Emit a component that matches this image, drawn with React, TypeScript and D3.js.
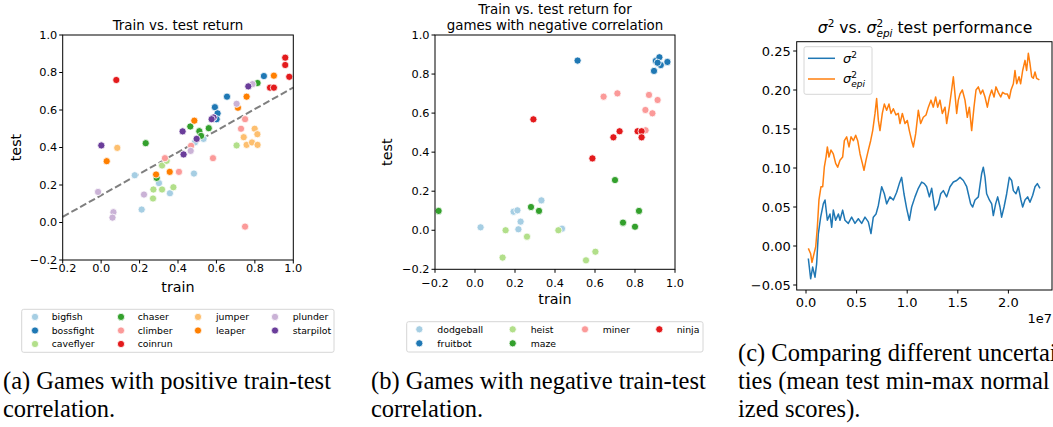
import React from "react";
import * as d3 from "d3";

// ---------- Panel (a): games with positive train-test correlation ----------
const gamesA = ["bigfish", "bossfight", "caveflyer", "chaser", "climber", "coinrun", "jumper", "leaper", "plunder", "starpilot"];
const colorsA = ["#a6cee3", "#1f78b4", "#b2df8a", "#33a02c", "#fb9a99", "#e31a1c", "#fdbf6f", "#ff7f00", "#cab2d6", "#6a3d9a"];
const legendColA = [0, 0, 0, 1, 1, 1, 2, 2, 3, 3];
const legendRowA = [0, 1, 2, 0, 1, 2, 0, 1, 0, 1];
const bigfish = [[0.175, 0.252], [0.301, 0.21], [0.211, 0.069], [0.358, 0.156], [0.483, 0.261], [0.533, 0.446], [0.488, 0.427]];
const bossfight = [[0.847, 0.781], [0.655, 0.671], [0.592, 0.615], [0.606, 0.582], [0.601, 0.551]];
const caveflyer = [[0.317, 0.304], [0.341, 0.329], [0.272, 0.176], [0.317, 0.176], [0.27, 0.128], [0.376, 0.188], [0.705, 0.411]];
const chaser = [[0.814, 0.744], [0.232, 0.423], [0.464, 0.512], [0.511, 0.487], [0.52, 0.462], [0.56, 0.503], [0.289, 0.238]];
const climber = [[0.749, 0.551], [0.728, 0.5], [0.582, 0.343], [0.332, 0.343], [0.405, 0.27], [0.468, 0.409], [0.749, -0.022]];
const coinrun = [[0.079, 0.76], [0.958, 0.879], [0.958, 0.84], [0.979, 0.777], [0.879, 0.719], [0.899, 0.719]];
const jumper = [[0.084, 0.398], [0.799, 0.5], [0.813, 0.471], [0.742, 0.455], [0.757, 0.414], [0.785, 0.427], [0.814, 0.414]];
const leaper = [[0.899, 0.783], [0.757, 0.671], [0.712, 0.612], [0.485, 0.543], [0.029, 0.327], [0.286, 0.256], [0.357, 0.27]];
const plunder = [[-0.016, 0.163], [0.064, 0.055], [0.059, 0.026], [0.223, 0.149], [0.466, 0.382], [0.705, 0.633], [0.788, 0.738]];
const starpilot = [[0.001, 0.411], [0.424, 0.486], [0.429, 0.363], [0.497, 0.446], [0.585, 0.56], [0.575, 0.551], [0.766, 0.726]];
const pointsA = [bigfish, bossfight, caveflyer, chaser, climber, coinrun, jumper, leaper, plunder, starpilot];
const fitLine = [[-0.2, 0.03], [1.0, 0.72]];

// ---------- Panel (b): games with negative train-test correlation ----------
const gamesB = ["dodgeball", "fruitbot", "heist", "maze", "miner", "ninja"];
const colorsB = ["#a6cee3", "#1f78b4", "#b2df8a", "#33a02c", "#fb9a99", "#e31a1c"];
const legendColB = [0, 0, 1, 1, 2, 3];
const legendRowB = [0, 1, 0, 1, 0, 0];
const dodgeball = [[0.028, 0.015], [0.193, 0.095], [0.212, 0.102], [0.332, 0.153], [0.228, 0.044], [0.217, 0.005], [0.435, 0.008]];
const fruitbot = [[0.513, 0.869], [0.904, 0.867], [0.922, 0.886], [0.929, 0.846], [0.895, 0.816], [0.962, 0.862], [0.913, 0.858]];
const heist = [[0.153, 0.0], [0.26, -0.033], [0.138, -0.14], [0.417, 0.0], [0.555, -0.154], [0.602, -0.11]];
const maze = [[-0.182, 0.099], [0.28, 0.119], [0.32, 0.099], [0.7, 0.257], [0.74, 0.039], [0.82, 0.099], [0.8, 0.018]];
const miner = [[0.643, 0.684], [0.712, 0.701], [0.87, 0.693], [0.913, 0.667], [0.852, 0.616], [0.887, 0.599], [0.853, 0.512]];
const ninja = [[0.292, 0.568], [0.587, 0.368], [0.692, 0.476], [0.723, 0.507], [0.813, 0.507], [0.833, 0.507], [0.833, 0.476]];
const pointsB = [dodgeball, fruitbot, heist, maze, miner, ninja];

const scatterTicks = [-0.2, 0.0, 0.2, 0.4, 0.6, 0.8, 1.0];

// ---------- Panel (c): sigma^2 vs sigma^2_epi (steps in units of 1e7) ----------
const sigmaSteps = [0.023, 0.046, 0.066, 0.089, 0.105, 0.122, 0.145, 0.171, 0.188, 0.211, 0.237, 0.254, 0.27, 0.293, 0.32, 0.336, 0.362, 0.385, 0.418, 0.451, 0.484, 0.517, 0.55, 0.583, 0.616, 0.642, 0.665, 0.692, 0.715, 0.748, 0.774, 0.797, 0.83, 0.863, 0.896, 0.922, 0.945, 0.968, 0.995, 1.021, 1.044, 1.077, 1.11, 1.143, 1.169, 1.192, 1.219, 1.242, 1.275, 1.308, 1.331, 1.357, 1.39, 1.423, 1.456, 1.489, 1.522, 1.555, 1.588, 1.604, 1.627, 1.647, 1.67, 1.703, 1.736, 1.752, 1.769, 1.785, 1.812, 1.835, 1.851, 1.874, 1.894, 1.917, 1.933, 1.957, 1.983, 2.009, 2.032, 2.049, 2.075, 2.098, 2.124, 2.141, 2.164, 2.19, 2.213, 2.24, 2.263, 2.286, 2.312];
const sigmaValues = [-0.016, -0.042, -0.027, -0.04, -0.023, 0.016, 0.037, 0.054, 0.059, 0.033, 0.041, 0.024, 0.046, 0.033, 0.041, 0.033, 0.046, 0.033, 0.029, 0.037, 0.029, 0.035, 0.029, 0.037, 0.031, 0.016, 0.037, 0.041, 0.052, 0.076, 0.067, 0.054, 0.063, 0.059, 0.069, 0.08, 0.088, 0.067, 0.048, 0.033, 0.05, 0.063, 0.074, 0.082, 0.08, 0.076, 0.063, 0.074, 0.046, 0.054, 0.067, 0.071, 0.063, 0.076, 0.082, 0.084, 0.088, 0.084, 0.076, 0.067, 0.054, 0.05, 0.059, 0.063, 0.093, 0.101, 0.088, 0.067, 0.059, 0.054, 0.039, 0.054, 0.063, 0.05, 0.037, 0.05, 0.067, 0.088, 0.084, 0.071, 0.067, 0.076, 0.059, 0.05, 0.059, 0.063, 0.056, 0.065, 0.076, 0.08, 0.074];
const epiSteps = [0.023, 0.046, 0.059, 0.079, 0.096, 0.112, 0.128, 0.148, 0.165, 0.181, 0.198, 0.211, 0.227, 0.247, 0.27, 0.293, 0.313, 0.336, 0.362, 0.379, 0.402, 0.425, 0.445, 0.468, 0.491, 0.511, 0.534, 0.557, 0.573, 0.593, 0.616, 0.639, 0.659, 0.682, 0.698, 0.715, 0.731, 0.754, 0.774, 0.797, 0.82, 0.84, 0.863, 0.889, 0.912, 0.929, 0.952, 0.978, 1.001, 1.021, 1.044, 1.061, 1.084, 1.11, 1.133, 1.159, 1.186, 1.209, 1.235, 1.258, 1.281, 1.301, 1.324, 1.347, 1.374, 1.39, 1.416, 1.439, 1.456, 1.472, 1.489, 1.505, 1.522, 1.545, 1.571, 1.594, 1.614, 1.637, 1.66, 1.68, 1.703, 1.726, 1.746, 1.769, 1.792, 1.812, 1.835, 1.858, 1.877, 1.9, 1.924, 1.943, 1.966, 1.989, 2.009, 2.026, 2.049, 2.065, 2.082, 2.105, 2.121, 2.141, 2.164, 2.18, 2.197, 2.213, 2.23, 2.246, 2.263, 2.279, 2.306];
const epiValues = [-0.003, -0.01, -0.021, -0.01, -0.001, 0.024, 0.059, 0.076, 0.076, 0.101, 0.114, 0.127, 0.114, 0.123, 0.118, 0.106, 0.101, 0.11, 0.114, 0.135, 0.14, 0.127, 0.14, 0.135, 0.142, 0.135, 0.118, 0.106, 0.097, 0.11, 0.123, 0.135, 0.148, 0.17, 0.189, 0.161, 0.148, 0.17, 0.182, 0.174, 0.182, 0.17, 0.176, 0.168, 0.17, 0.157, 0.17, 0.157, 0.161, 0.148, 0.135, 0.127, 0.144, 0.174, 0.157, 0.165, 0.168, 0.178, 0.187, 0.178, 0.191, 0.178, 0.187, 0.17, 0.178, 0.157, 0.178, 0.2, 0.217, 0.195, 0.17, 0.187, 0.195, 0.2, 0.187, 0.165, 0.178, 0.148, 0.178, 0.2, 0.204, 0.195, 0.2, 0.191, 0.178, 0.191, 0.2, 0.191, 0.204, 0.197, 0.191, 0.197, 0.195, 0.195, 0.189, 0.2, 0.208, 0.225, 0.208, 0.217, 0.208, 0.225, 0.238, 0.225, 0.247, 0.234, 0.217, 0.215, 0.223, 0.215, 0.213];
const stepTicks = [0.0, 0.5, 1.0, 1.5, 2.0];
const perfTicks = [-0.05, 0.0, 0.05, 0.1, 0.15, 0.2, 0.25];

const SANS = "DejaVu Sans";
const SERIF = "Liberation Serif";
const fmtMinus = (s: string) => s.replace("-", "\u2212");

type Legend = { x0: number; y0: number; w: number; h: number; col: number[]; row: number[]; colMarker: number[]; colText: number[]; rowY: number[] };

function ScatterPanel(props: {
  box: [number, number, number, number];
  title: string[];
  titleY: number[];
  games: string[];
  colors: string[];
  points: number[][][];
  tickLabelY: number;
  xLabelY: number;
  yLabelX: number;
  fit?: number[][];
  legend: Legend;
}) {
  const [left, right, top, bottom] = props.box;
  const x = d3.scaleLinear().domain([-0.2, 1.0]).range([left, right]);
  const y = d3.scaleLinear().domain([-0.2, 1.0]).range([bottom, top]);
  const cx = (left + right) / 2;
  const lg = props.legend;
  return (
    <g fontFamily={SANS}>
      {props.title.map((t, i) => (
        <text key={i} x={cx} y={props.titleY[i]} dy="0.35em" textAnchor="middle" fontSize={13.4} fill="#000">{t}</text>
      ))}
      {props.fit && (
        <path d={d3.line()(props.fit.map((p) => [x(p[0]), y(p[1])]) as any) || ""} stroke="#7f7f7f" strokeWidth={2} strokeDasharray="7,3" fill="none" />
      )}
      {props.points.map((arr, gi) =>
        arr.map((p, i) => (
          <circle key={gi + "-" + i} cx={x(p[0])} cy={y(p[1])} r={3.6} fill={props.colors[gi]} stroke="#fff" strokeWidth={0.8} />
        ))
      )}
      <rect x={left} y={top} width={right - left} height={bottom - top} fill="none" stroke="#000" strokeWidth={1} />
      {scatterTicks.map((t) => (
        <g key={"x" + t}>
          <line x1={x(t)} x2={x(t)} y1={bottom} y2={bottom + 3.5} stroke="#000" />
          <text x={x(t)} y={props.tickLabelY} dy="0.35em" textAnchor="middle" fontSize={11.3}>{fmtMinus(t.toFixed(1))}</text>
        </g>
      ))}
      {scatterTicks.map((t) => (
        <g key={"y" + t}>
          <line x1={left - 3.5} x2={left} y1={y(t)} y2={y(t)} stroke="#000" />
          <text x={left - 5.5} y={y(t)} dy="0.35em" textAnchor="end" fontSize={11.3}>{fmtMinus(t.toFixed(1))}</text>
        </g>
      ))}
      <text x={cx} y={props.xLabelY} dy="0.35em" textAnchor="middle" fontSize={14.3}>train</text>
      <text transform={`translate(${props.yLabelX},${(top + bottom) / 2}) rotate(-90)`} dy="0.35em" textAnchor="middle" fontSize={14.3}>test</text>
      <rect x={lg.x0} y={lg.y0} width={lg.w} height={lg.h} rx={2} fill="#fff" stroke="#d6d6d6" strokeWidth={1} />
      {props.games.map((g, i) => {
        const c = lg.col[i];
        const r = lg.row[i];
        return (
          <g key={g}>
            <circle cx={lg.colMarker[c]} cy={lg.rowY[r]} r={3.6} fill={props.colors[i]} stroke="#fff" strokeWidth={0.8} />
            <text x={lg.colText[c]} y={lg.rowY[r]} dy="0.35em" fontSize={9.3}>{g}</text>
          </g>
        );
      })}
    </g>
  );
}

function LinePanel() {
  const left = 796.7, right = 1052, top = 41.7, bottom = 290;
  const x = d3.scaleLinear().domain([0, 2]).range([806, 1008.4]);
  const y = d3.scaleLinear().domain([-0.05, 0.25]).range([285, 51]);
  const mk = (xs: number[], ys: number[]) =>
    d3.line()(xs.map((v, i) => [x(v), y(ys[i])] as [number, number])) || "";
  return (
    <g fontFamily={SANS}>
      <text x={925} y={33} textAnchor="middle" fontSize={15.6}>
        <tspan fontStyle="italic">σ</tspan>
        <tspan dy={-6} fontSize={10.5}>2</tspan>
        <tspan dy={6}> vs. </tspan>
        <tspan fontStyle="italic">σ</tspan>
        <tspan dy={-6} fontSize={10.5}>2</tspan>
        <tspan dx={-6.7} dy={10} fontSize={10.5} fontStyle="italic">epi</tspan>
        <tspan dy={-4}> test performance</tspan>
      </text>
      <path d={mk(sigmaSteps, sigmaValues)} stroke="#1f77b4" strokeWidth={1.5} fill="none" strokeLinejoin="round" />
      <path d={mk(epiSteps, epiValues)} stroke="#ff7f0e" strokeWidth={1.5} fill="none" strokeLinejoin="round" />
      <rect x={left} y={top} width={right - left} height={bottom - top} fill="none" stroke="#000" strokeWidth={1} />
      {stepTicks.map((t) => (
        <g key={"x" + t}>
          <line x1={x(t)} x2={x(t)} y1={bottom} y2={bottom + 3.5} stroke="#000" />
          <text x={x(t)} y={302} dy="0.35em" textAnchor="middle" fontSize={13}>{t.toFixed(1)}</text>
        </g>
      ))}
      {perfTicks.map((t) => (
        <g key={"y" + t}>
          <line x1={left - 3.5} x2={left} y1={y(t)} y2={y(t)} stroke="#000" />
          <text x={left - 6} y={y(t)} dy="0.35em" textAnchor="end" fontSize={13}>{fmtMinus(t.toFixed(2))}</text>
        </g>
      ))}
      <text x={1052} y={318} dy="0.35em" textAnchor="end" fontSize={13}>1e7</text>
      <rect x={804} y={46.7} width={68} height={47.6} rx={2} fill="#fff" fillOpacity={0.8} stroke="#d6d6d6" strokeWidth={1} />
      <line x1={808} x2={835} y1={58.3} y2={58.3} stroke="#1f77b4" strokeWidth={1.5} />
      <line x1={808} x2={835} y1={79} y2={79} stroke="#ff7f0e" strokeWidth={1.5} />
      <text x={843} y={63} fontSize={13}>
        <tspan fontStyle="italic">σ</tspan>
        <tspan dy={-5} fontSize={9}>2</tspan>
      </text>
      <text x={843} y={83} fontSize={13}>
        <tspan fontStyle="italic">σ</tspan>
        <tspan dy={-5} fontSize={9}>2</tspan>
        <tspan dx={-5.7} dy={8.5} fontSize={9} fontStyle="italic">epi</tspan>
      </text>
    </g>
  );
}

export default function App() {
  return (
    <svg width={1053} height={427} style={{ position: "absolute", left: 0, top: 0, background: "#fff" }}>
      <rect width={1053} height={427} fill="#fff" />
      <ScatterPanel
        box={[62.7, 293.3, 35, 260]}
        title={["Train vs. test return"]}
        titleY={[25]}
        games={gamesA}
        colors={colorsA}
        points={pointsA}
        tickLabelY={268}
        xLabelY={287}
        yLabelX={16}
        fit={fitLine}
        legend={{ x0: 21.7, y0: 309.3, w: 312.3, h: 43, col: legendColA, row: legendRowA, colMarker: [35, 121, 198, 275], colText: [51.7, 137.7, 216, 292.7], rowY: [316.9, 330.5, 344] }}
      />
      <ScatterPanel
        box={[435, 675, 35, 269.3]}
        title={["Train vs. test return for", "games with negative correlation"]}
        titleY={[9, 25]}
        games={gamesB}
        colors={colorsB}
        points={pointsB}
        tickLabelY={283}
        xLabelY={299}
        yLabelX={386.7}
        legend={{ x0: 406.7, y0: 321.7, w: 296.3, h: 30.3, col: legendColB, row: legendRowB, colMarker: [419.3, 512.7, 585, 659.3], colText: [437.3, 530.7, 602.7, 676.7], rowY: [329.3, 343.3] }}
      />
      <LinePanel />
      <g fontFamily={SERIF} fontSize={24.5} fill="#000">
        <text x={3} y={389}>(a) Games with positive train-test</text>
        <text x={3} y={417}>correlation.</text>
        <text x={371} y={389}>(b) Games with negative train-test</text>
        <text x={371} y={417}>correlation.</text>
        <text x={738} y={361}>(c) Comparing different uncertain</text>
        <text x={738} y={389}>ties (mean test min-max normal</text>
        <text x={738} y={417}>ized scores).</text>
      </g>
    </svg>
  );
}
